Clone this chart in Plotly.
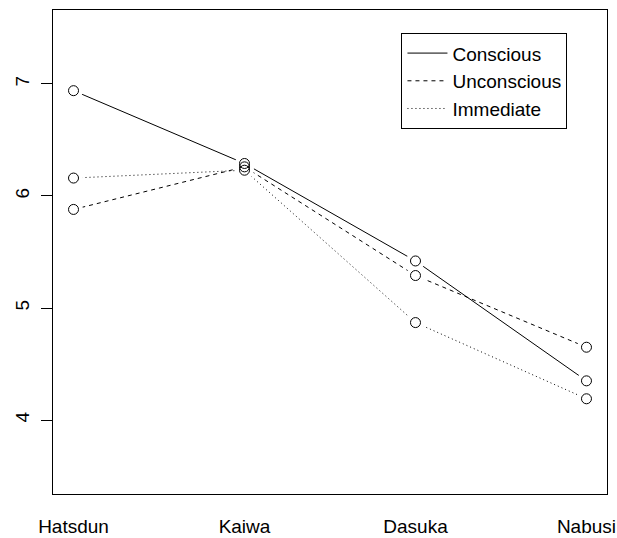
import plotly.graph_objects as go

categories = ["Hatsdun", "Kaiwa", "Dasuka", "Nabusi"]
positions = [1, 2, 3, 4]
conscious = [6.94, 6.29, 5.42, 4.35]
unconscious = [5.88, 6.26, 5.29, 4.65]
immediate = [6.16, 6.23, 4.87, 4.19]
series_names = ["Conscious", "Unconscious", "Immediate"]
y_ticks = [4, 5, 6, 7]

series = [conscious, unconscious, immediate]
dashes = ["solid", "4px,4px", "1px,3px"]

fig = go.Figure()
for name, vals, d in zip(series_names, series, dashes):
    fig.add_trace(go.Scatter(x=positions, y=vals, mode="lines", name=name,
                             line=dict(color="black", width=1, dash=d)))
for vals in series:
    fig.add_trace(go.Scatter(x=positions, y=vals, mode="markers", showlegend=False,
                             hoverinfo="skip",
                             marker=dict(symbol="circle", size=19, color="white",
                                         line=dict(width=0))))
for vals in series:
    fig.add_trace(go.Scatter(x=positions, y=vals, mode="markers", showlegend=False,
                             marker=dict(symbol="circle-open", size=10, color="black",
                                         line=dict(width=1, color="black"))))

fig.update_layout(
    width=617, height=538,
    margin=dict(l=53, r=10, t=10, b=44),
    paper_bgcolor="white", plot_bgcolor="white",
    font=dict(family="Liberation Sans, Arial, sans-serif", size=19, color="black"),
    showlegend=True,
    legend=dict(x=0.629, y=0.952, xanchor="left", yanchor="top",
                bordercolor="black", borderwidth=1, bgcolor="white",
                font=dict(size=19), tracegroupgap=0, itemwidth=40),
    xaxis=dict(range=[0.88, 4.12], tickvals=positions, ticktext=categories,
               showgrid=False, zeroline=False, ticks="", showline=True,
               linecolor="black", linewidth=1, mirror=True, automargin=False,
               ticklabelstandoff=15),
    yaxis=dict(range=[3.34, 7.66], tickvals=y_ticks, ticktext=[str(v) for v in y_ticks],
               showgrid=False, zeroline=False, ticks="outside", ticklen=11,
               tickcolor="black", showline=True, linecolor="black", linewidth=1,
               mirror=True, tickangle=-90, ticklabelstandoff=4, automargin=False),
)

fig.write_html("out.html", config={"displayModeBar": False},
               post_script="document.body.style.margin='0';")
